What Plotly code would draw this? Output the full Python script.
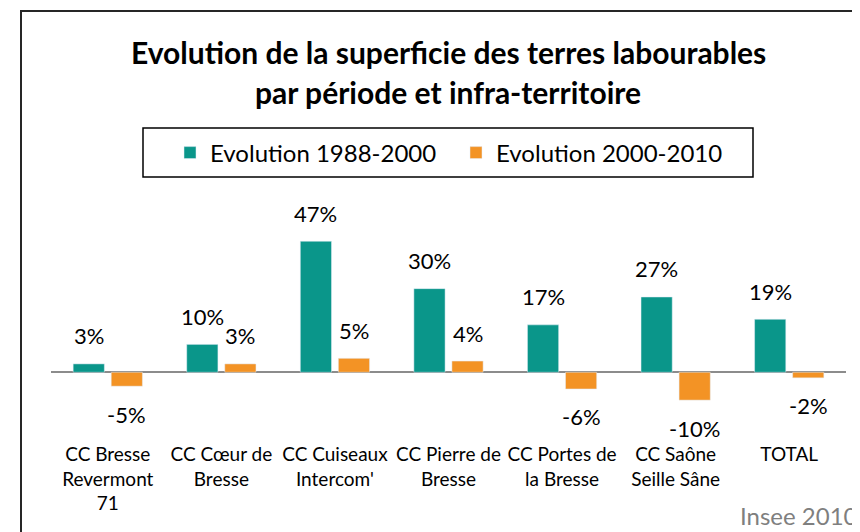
import plotly.graph_objects as go

categories = ["CC Bresse<br>Revermont<br>71", "CC Cœur de<br>Bresse", "CC Cuiseaux<br>Intercom'",
              "CC Pierre de<br>Bresse", "CC Portes de<br>la Bresse", "CC Saône<br>Seille Sâne", "TOTAL"]
series_names = ["Evolution 1988-2000", "Evolution 2000-2010"]
evol_1988_2000 = [3, 10, 47, 30, 17, 27, 19]
evol_2000_2010 = [-5, 3, 5, 4, -6, -10, -2]

TEAL = "#0A968A"
ORANGE = "#F39325"
FONT = "Lato"

# page body has an 8px margin: figure is placed at (8, 8) in the screenshot
OFF = 8
W, H = 860 - OFF, 532 - OFF
# plot area in screenshot pixels: x 51..846, y 205..428
PX0, PX1, PY0, PY1 = 51, 846, 205, 428
ML, MR, MT, MB = PX0 - OFF, W - (PX1 - OFF), PY0 - OFF, H - (PY1 - OFF)
PW, PH = PX1 - PX0, PY1 - PY0


def xp(px):
    return (px - PX0) / PW


def yp(py):
    return (PY1 - py) / PH


fig = go.Figure()
fig.add_trace(go.Bar(x=categories, y=evol_1988_2000, name=series_names[0], marker_color=TEAL))
fig.add_trace(go.Bar(x=categories, y=evol_2000_2010, name=series_names[1], marker_color=ORANGE))

annotations = []
for vals, shift in ((evol_1988_2000, -19), (evol_2000_2010, 19)):
    for c, v in zip(categories, vals):
        annotations.append(dict(x=c, y=v, xref="x", yref="y", text=f"{v}%", showarrow=False,
                                xshift=shift, yshift=28 if v >= 0 else -28, yanchor="middle",
                                font=dict(family=FONT, size=22, color="#000")))

annotations += [
    dict(x=xp(448), y=yp(52), xref="paper", yref="paper",
         text="<b>Evolution de la superficie des terres labourables</b>",
         showarrow=False, yanchor="middle", font=dict(family=FONT, size=30, color="#000")),
    dict(x=xp(448), y=yp(92), xref="paper", yref="paper", text="<b>par période et infra-territoire</b>",
         showarrow=False, yanchor="middle", font=dict(family=FONT, size=30, color="#000")),
    dict(x=xp(738), y=yp(515), xref="paper", yref="paper", text="Insee 2010", showarrow=False,
         xanchor="left", yanchor="middle", font=dict(family=FONT, size=24, color="#7F7F7F")),
]

fig.update_layout(
    width=W, height=H,
    margin=dict(l=ML, r=MR, t=MT, b=MB),
    paper_bgcolor="white", plot_bgcolor="white",
    barmode="group", bargap=0.33, bargroupgap=0.18,
    showlegend=True,
    legend=dict(orientation="h", x=xp(185 - 15), xanchor="left", y=yp(153), yanchor="middle",
                borderwidth=0, bgcolor="rgba(0,0,0,0)", font=dict(family=FONT, size=24, color="#000"),
                itemwidth=30, entrywidth=241),
    annotations=annotations,
    shapes=[
        dict(type="rect", xref="paper", yref="paper", x0=xp(21), x1=xp(920), y0=yp(11), y1=yp(620),
             line=dict(color="#262626", width=2), layer="below"),
        dict(type="rect", xref="paper", yref="paper", x0=xp(143), x1=xp(753), y0=yp(128), y1=yp(177),
             line=dict(color="#000", width=1.5), layer="below"),
    ],
    font=dict(family=FONT, color="#000"),
)
fig.update_xaxes(showgrid=False, showline=False, ticks="outside", ticklen=9, tickcolor="rgba(0,0,0,0)",
                 tickfont=dict(family=FONT, size=19, color="#000"))
fig.update_yaxes(range=[-20, 60], showgrid=False, showticklabels=False, zeroline=True,
                 zerolinecolor="#8C8C8C", zerolinewidth=2)

fig.write_html("out.html")
